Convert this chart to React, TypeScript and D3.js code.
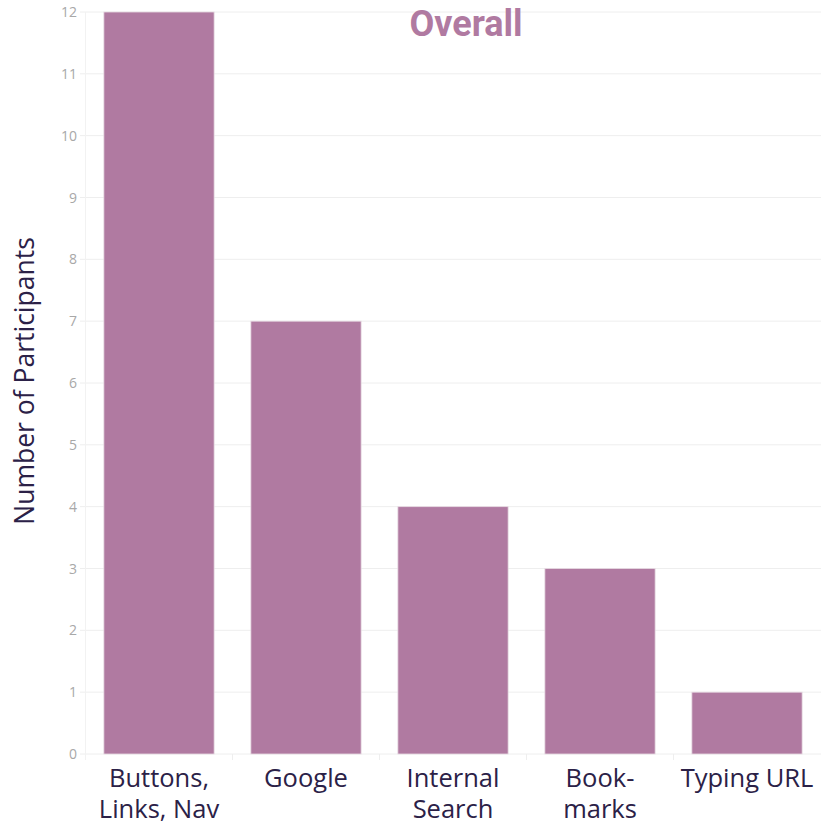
import { useEffect, useRef } from "react";
import * as d3 from "d3";

const categories = ["Buttons, Links, Nav", "Google", "Internal Search", "Book- marks", "Typing URL"];
const categoryLines = [["Buttons,", "Links, Nav"], ["Google"], ["Internal", "Search"], ["Book-", "marks"], ["Typing URL"]];
const participants = [12, 7, 4, 3, 1];
const yTicks = [0, 1, 2, 3, 4, 5, 6, 7, 8, 9, 10, 11, 12];

const WIDTH = 821;
const HEIGHT = 825;
const BAR_COLOR = "#b07aa1";
const TEXT_DARK = "#2b2147";

export default function App() {
  const svgRef = useRef<SVGSVGElement>(null);

  useEffect(() => {
    if (!svgRef.current) return;
    const svg = d3.select(svgRef.current);
    svg.selectAll("*").remove();

    const left = 85.5;
    const right = 820.5;
    const top = 12;
    const bottom = 754;

    const x = d3.scaleBand<string>().domain(categories).range([left, right]).paddingInner(0.25).paddingOuter(0.125);
    const y = d3.scaleLinear().domain([0, 12]).range([bottom, top]);

    // horizontal gridlines
    svg.append("g")
      .selectAll("line")
      .data(yTicks)
      .join("line")
      .attr("x1", 80)
      .attr("x2", WIDTH)
      .attr("y1", d => y(d))
      .attr("y2", d => y(d))
      .attr("stroke", "#eeeeee")
      .attr("stroke-width", 1);

    // vertical left line + category separators
    svg.append("line")
      .attr("x1", left).attr("x2", left)
      .attr("y1", top).attr("y2", bottom + 6)
      .attr("stroke", "#f2f2f2");

    const seps = categories.slice(1).map(c => (x(c) as number) - x.step() * x.paddingInner() / 2);
    svg.append("g")
      .selectAll("line")
      .data(seps)
      .join("line")
      .attr("x1", d => d).attr("x2", d => d)
      .attr("y1", bottom).attr("y2", bottom + 6)
      .attr("stroke", "#eeeeee");

    // y tick labels
    svg.append("g")
      .selectAll("text")
      .data(yTicks)
      .join("text")
      .attr("x", 77)
      .attr("y", d => y(d) + 5)
      .attr("text-anchor", "end")
      .attr("font-family", "'Open Sans', sans-serif")
      .attr("font-size", "14px")
      .attr("fill", "#a8a8a8")
      .text(d => d);

    // bars
    svg.append("g")
      .selectAll("rect")
      .data(participants)
      .join("rect")
      .attr("x", (d, i) => x(categories[i]) as number)
      .attr("y", d => y(d))
      .attr("width", x.bandwidth())
      .attr("height", d => bottom - y(d))
      .attr("fill", BAR_COLOR)
      .attr("stroke", "#e8dce4")
      .attr("stroke-width", 0.8);

    // category labels
    const labels = svg.append("g")
      .selectAll("text")
      .data(categories)
      .join("text")
      .attr("x", d => (x(d) as number) + x.bandwidth() / 2)
      .attr("y", 787)
      .attr("text-anchor", "middle")
      .attr("font-family", "'Open Sans', sans-serif")
      .attr("font-size", "25.5px")
      .attr("fill", TEXT_DARK);
    labels.each(function (d, i) {
      const t = d3.select(this);
      categoryLines[i].forEach((line, j) => {
        t.append("tspan")
          .attr("x", (x(d) as number) + x.bandwidth() / 2)
          .attr("dy", j === 0 ? 0 : 31)
          .text(line);
      });
    });

    // y axis title
    svg.append("text")
      .attr("transform", `translate(34, ${381}) rotate(-90)`)
      .attr("text-anchor", "middle")
      .attr("font-family", "'Open Sans', sans-serif")
      .attr("font-size", "26.5px")
      .attr("fill", TEXT_DARK)
      .text("Number of Participants");

    // title
    svg.append("text")
      .attr("x", 466)
      .attr("y", 36)
      .attr("text-anchor", "middle")
      .attr("font-family", "'Liberation Sans Narrow', 'Roboto', sans-serif")
      .attr("font-weight", "bold")
      .attr("font-size", "36px")
      .attr("fill", BAR_COLOR)
      .text("Overall");
  }, []);

  return (
    <svg
      ref={svgRef}
      width={WIDTH}
      height={HEIGHT}
      style={{ position: "absolute", left: 0, top: 0, background: "#fff" }}
    />
  );
}
